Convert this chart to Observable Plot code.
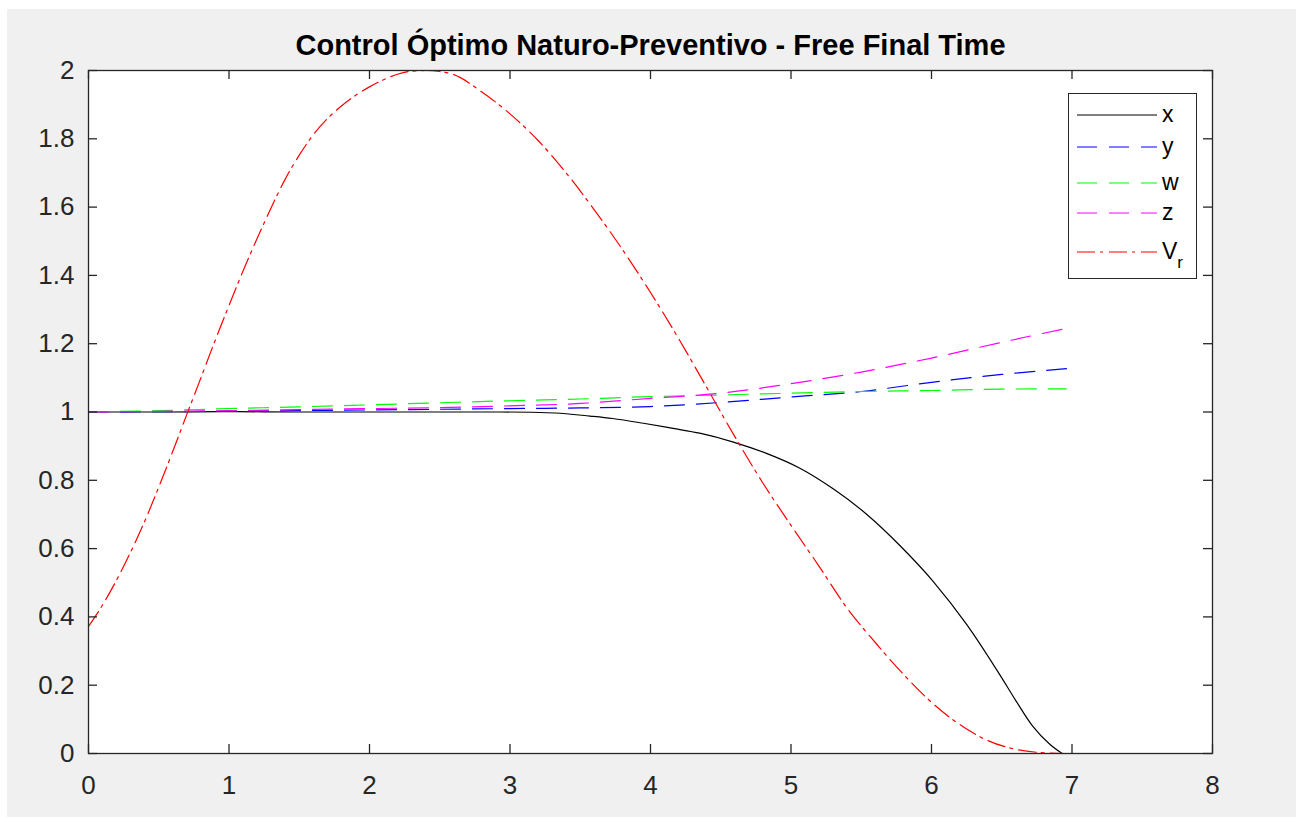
<!DOCTYPE html>
<html><head><meta charset="utf-8">
<script src="https://cdn.jsdelivr.net/npm/d3@7"></script>
<script src="https://cdn.jsdelivr.net/npm/@observablehq/plot@0.6"></script>
<style>
html,body{margin:0;padding:0;background:#fff;width:1302px;height:818px;overflow:hidden;font-family:"Liberation Sans",Arial,sans-serif}
#fig{position:absolute;left:7px;top:9px;width:1289px;height:808px;background:#f0f0f0}
#chart{position:absolute;left:0;top:0}
#legend{position:absolute;left:1068px;top:93px;width:129px;height:186px;box-sizing:border-box;border:1px solid #262626;background:#fff}
#legend svg{position:absolute;left:0;top:0}
</style></head><body>
<div id="fig"></div><div id="chart"></div><div id="legend"></div>
<script>
const title = "Control Óptimo Naturo-Preventivo - Free Final Time";
const xTicks = [0,1,2,3,4,5,6,7,8];
const xTickLabels = ["0","1","2","3","4","5","6","7","8"];
const yTicks = [0,0.2,0.4,0.6,0.8,1,1.2,1.4,1.6,1.8,2];
const yTickLabels = ["0","0.2","0.4","0.6","0.8","1","1.2","1.4","1.6","1.8","2"];

// x (black, solid)
const xT = [0,0.5,1,1.5,2,2.5,2.93,3.32,3.57,3.73,3.95,4.16,4.35,4.59,4.83,5.06,5.30,5.54,5.78,6.01,6.25,6.49,6.6,6.72,6.84,6.93];
const xV = [1,1.0,1.001,1.0,1.0,1.0,1.0,0.997,0.988,0.981,0.967,0.952,0.938,0.912,0.878,0.836,0.775,0.700,0.607,0.505,0.378,0.228,0.155,0.08,0.028,0];

// dashed series on a common time grid
const dT = [0,0.5,1,1.5,2,2.5,3,3.5,4,4.5,5,5.5,6,6.5,6.96];
const yV = [1,1.001,1.002,1.004,1.006,1.008,1.010,1.012,1.016,1.028,1.044,1.060,1.087,1.110,1.127];
const wV = [1,1.004,1.010,1.015,1.021,1.027,1.033,1.038,1.045,1.050,1.055,1.060,1.063,1.067,1.068];
const zV = [1,1.002,1.004,1.007,1.010,1.013,1.018,1.025,1.040,1.055,1.083,1.117,1.158,1.204,1.245];

// V_r (red, dash-dot)
const vrT = [0,0.1,0.2,0.3,0.4,0.5,0.6,0.7,0.8,0.9,1.0,1.1,1.2,1.3,1.4,1.5,1.6,1.7,1.8,1.9,2.0,2.1,2.2,2.3,2.4,2.5,2.6,2.8,3.0,3.2,3.4,3.6,3.8,4.0,4.2,4.4,4.6,4.8,5.0,5.2,5.4,5.6,5.8,6.0,6.2,6.4,6.6,6.8,6.95];
const vrV = [0.372,0.435,0.508,0.590,0.680,0.780,0.885,0.993,1.100,1.208,1.312,1.413,1.508,1.598,1.682,1.752,1.812,1.859,1.896,1.927,1.952,1.973,1.989,1.998,2.0,1.997,1.988,1.937,1.873,1.795,1.700,1.592,1.476,1.350,1.215,1.072,0.928,0.792,0.668,0.548,0.425,0.325,0.232,0.150,0.085,0.038,0.012,0.002,0];

const seriesNames = ["x","y","w","z","V_r"];
const seriesColors = ["#000000","#0000ff","#00ff00","#ff00ff","#ff0000"];
const seriesDash = [null,"20,12","20,12","20,12","18,5,3,6"];

const W = 1302, H = 818, mL = 88, mR = 90, mT = 70, mB = 65;
const fW = W - mL - mR, fH = H - mT - mB, tickLen = 9;
const axisColor = "#262626";

const toRows = (T, V) => T.map((t, i) => ({t, v: V[i]}));
const rows = [toRows(xT, xV), toRows(dT, yV), toRows(dT, wV), toRows(dT, zV), toRows(vrT, vrV)];

const lineMarks = rows.map((data, i) => Plot.line(data, {
  x: "t", y: "v", stroke: seriesColors[i], strokeWidth: 1.2,
  strokeDasharray: seriesDash[i] || undefined, curve: "monotone-x"
}));

const chart = Plot.plot({
  width: W, height: H,
  marginLeft: mL, marginRight: mR, marginTop: mT, marginBottom: mB,
  x: {domain: [0, 8]},
  y: {domain: [0, 2]},
  style: {background: "transparent", color: axisColor, fontFamily: '"Liberation Sans", Arial, sans-serif', overflow: "visible"},
  marks: [
    Plot.frame({fill: "white"}),
    ...lineMarks,
    Plot.frame({stroke: axisColor, strokeWidth: 1.3}),
    Plot.tickX(xTicks, {x: d => d, stroke: axisColor, strokeWidth: 1.3, insetTop: fH - tickLen}),
    Plot.tickX(xTicks, {x: d => d, stroke: axisColor, strokeWidth: 1.3, insetBottom: fH - tickLen}),
    Plot.tickY(yTicks, {y: d => d, stroke: axisColor, strokeWidth: 1.3, insetRight: fW - tickLen}),
    Plot.tickY(yTicks, {y: d => d, stroke: axisColor, strokeWidth: 1.3, insetLeft: fW - tickLen}),
    Plot.axisX({ticks: xTicks, tickSize: 0, tickPadding: 22, fontSize: 26,
      tickFormat: d => xTickLabels[xTicks.indexOf(d)], fill: axisColor, label: null}),
    Plot.axisY({ticks: yTicks, tickSize: 0, tickPadding: 14, fontSize: 26,
      tickFormat: d => yTickLabels[yTicks.indexOf(d)], fill: axisColor, label: null}),
    Plot.text([title], {frameAnchor: "top", dy: -25, fontSize: 29, fontWeight: "bold", fill: "#000", lineAnchor: "middle", text: d => d})
  ]
});
document.getElementById("chart").appendChild(chart);

// Legend
const lg = d3.select("#legend").append("svg").attr("width", 127).attr("height", 184)
  .style("font-family", '"Liberation Sans", Arial, sans-serif');
const rowY = [21, 53, 89, 119, 158];
seriesNames.forEach((name, i) => {
  const y = rowY[i];
  lg.append("line").attr("x1", 8).attr("x2", 88).attr("y1", y).attr("y2", y)
    .attr("stroke", seriesColors[i]).attr("stroke-width", 1.2)
    .attr("stroke-dasharray", seriesDash[i]);
  const t = lg.append("text").attr("x", 93).attr("y", y).attr("dy", "0.32em")
    .attr("font-size", 23).attr("fill", "#000");
  if (name === "V_r") {
    t.text("V");
    t.append("tspan").attr("dy", "0.5em").attr("font-size", 17).text("r");
  } else {
    t.text(name);
  }
});
</script>
</body></html>
